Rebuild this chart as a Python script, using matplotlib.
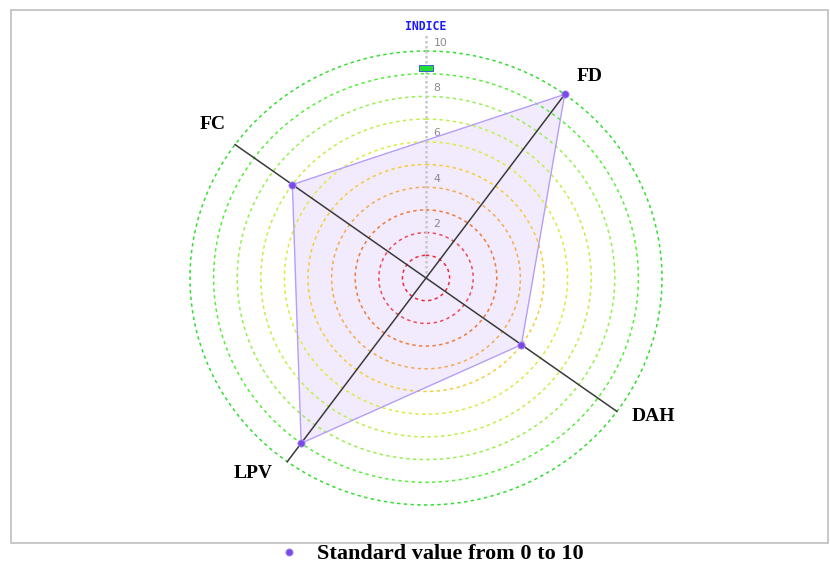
import numpy as np
import matplotlib
matplotlib.use('Agg')
import matplotlib.pyplot as plt
from matplotlib.patches import Rectangle

# ---- data ----
categories = ['FD', 'DAH', 'LPV', 'FC']
values = [10, 5, 9, 7]
angles_deg = [36, 126, 216, 306]
ring_levels = [1, 2, 3, 4, 5, 6, 7, 8, 9, 10]
tick_values = [2, 4, 6, 8, 10]
tick_labels = ['2', '4', '6', '8', '10']
indice_marker_value = [9.25]
axis_title = 'INDICE'
legend_label = 'Standard value from 0 to 10'

# ---- styles ----
ring_colors = ['#f02a3a', '#f04a55', '#f07a3a', '#f5aa50', '#f5cc3a',
               '#dceb40', '#bff048', '#95f050', '#55ee3a', '#33dd33']
label_offsets_px = [(7, -6), (12, 12), (-16, 12), (2, 3)]  # (dx right, dy up)

W, H = 830, 564
fig = plt.figure(figsize=(W / 100, H / 100), dpi=100)

# outer frame
fig.patches.append(Rectangle((11 / W, (H - 543) / H), (828 - 11) / W, (543 - 10) / H,
                             transform=fig.transFigure, fill=False,
                             edgecolor='#c4c4c4', lw=1.3))

cx, cy, rx, ry = 426, 278, 236, 227
ax = fig.add_axes([(cx - rx) / W, (H - cy - ry) / H, 2 * rx / W, 2 * ry / H],
                  projection='polar')
ax.set_aspect('auto')
ax.set_theta_zero_location('N')
ax.set_theta_direction(-1)
ax.set_ylim(0, 10)
ax.set_axis_off()

theta = np.radians(angles_deg)
th_full = np.linspace(0, 2 * np.pi, 500)

# polygon fill
ax.fill(np.r_[theta, theta[0]], np.r_[values, values[0]], color='#f1ebfd',
        zorder=1, lw=0)

# rings
for r, c in zip(ring_levels, ring_colors):
    ax.plot(th_full, np.full_like(th_full, r), ls=(0, (2.2, 2.2)), color=c,
            lw=1.1, zorder=2, clip_on=False)

# radial dotted axis
ax.plot([0, 0], [0, 10.7], color='#c8c8c8', ls=(0, (1, 1)), lw=1.8,
        zorder=2, clip_on=False)
for v, l in zip(tick_values, tick_labels):
    ax.annotate(l, xy=(0, v), xytext=(5.5, 2.5), textcoords='offset points',
                ha='left', va='bottom', fontsize=7.8, color='#8a8a8a',
                annotation_clip=False)
ax.text(0, 11.1, axis_title, ha='center', va='center', color='#1a1aff',
        fontsize=8.3, fontweight='bold', family='DejaVu Sans Mono',
        clip_on=False)

# polygon edge
ax.plot(np.r_[theta, theta[0]], np.r_[values, values[0]], color='#b59ef6',
        lw=1.0, zorder=3, clip_on=False)

# axis lines
for t in theta:
    ax.plot([t, t], [0, 10], color='#3a3a3a', lw=1.1, zorder=4, clip_on=False)

# points
pts, = ax.plot(theta, values, 'o', ms=5.2, color='#7b4ae8', mec='#a890f3',
               mew=0.6, zorder=5, clip_on=False, label=legend_label)

# green marker on INDICE axis
rect_verts = [(-2.4, -1), (2.4, -1), (2.4, 1), (-2.4, 1), (-2.4, -1)]
ax.plot([0], indice_marker_value, marker=rect_verts, ms=9.5, mfc='#22dd33',
        mec='#3a5fd0', mew=0.7, ls='none', zorder=6, clip_on=False)

# category labels
for t, cat, (ox, oy) in zip(theta, categories, label_offsets_px):
    ax.annotate(cat, xy=(t, 11.3), xytext=(ox * 0.72, oy * 0.72),
                textcoords='offset points', ha='center', va='center',
                fontsize=14, fontweight='bold', family='Liberation Serif',
                annotation_clip=False)

fig.legend(handles=[pts], labels=[legend_label], loc='center left',
           bbox_to_anchor=(278 / W, 1 - 554 / H), frameon=False,
           prop=dict(family='Liberation Serif', weight='bold', size=16),
           handlelength=1.0, handletextpad=0.75, borderpad=0, borderaxespad=0)

fig.savefig('out.png', dpi=100)
